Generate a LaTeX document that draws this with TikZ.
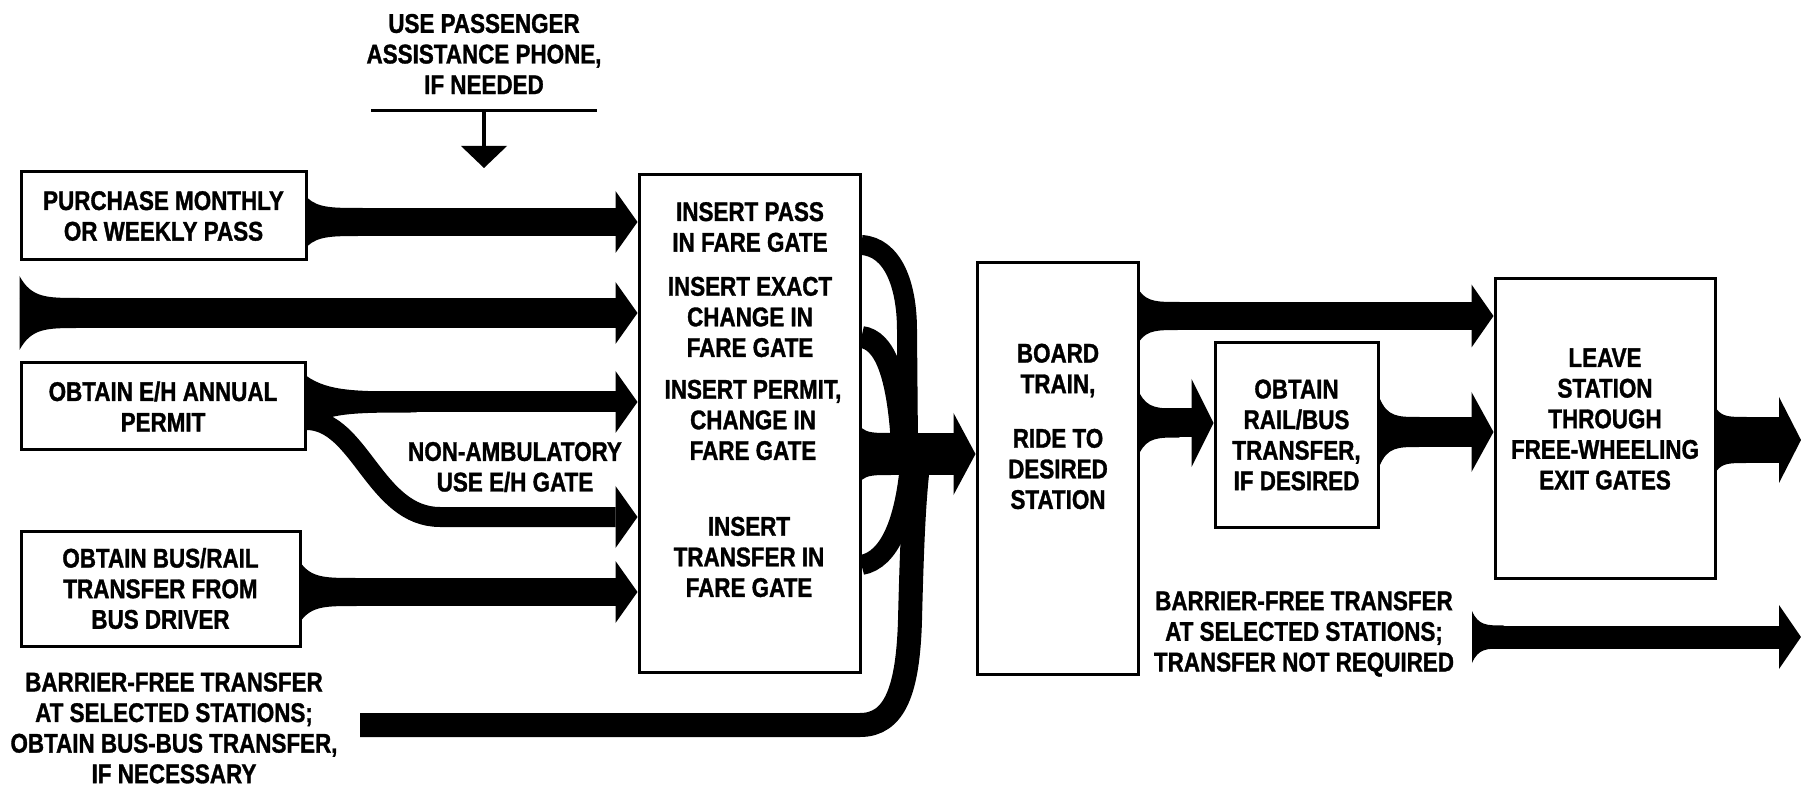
\documentclass[tikz,border=0pt]{standalone}
\usepackage{fontspec}
\setmainfont{Liberation Sans}[FakeStretch=0.83, BoldFeatures={FakeBold=1.2}]
\usetikzlibrary{arrows.meta}

\begin{document}
\begin{tikzpicture}[x=0.5pt, y=-0.5pt,
  box/.style={draw, line width=1.5pt, inner sep=0pt, align=center},
  txt/.style={align=center, inner sep=0pt, font=\bfseries\fontsize{13.5}{15.3}\selectfont},
  flow/.style args={#1/#2}{line width=#1, -{Triangle[length=11pt, width=#2, line width=0pt]}},
  pics/flare/.style args={#1/#2/#3}{code={
    \fill (0,-#1) .. controls ({0.2*#2},-#3) and ({0.45*#2},-#3) .. (#2,-#3)
      -- (#2,#3) .. controls ({0.45*#2},#3) and ({0.2*#2},#3) .. (0,#1) -- cycle;}}]
\useasboundingbox (0,0) rectangle (1801,786);

\node[txt] (assist) at (484,54) {USE PASSENGER\\ASSISTANCE PHONE,\\IF NEEDED};
\coordinate (barl) at (371,111);
\coordinate (barr) at (597,111);
\coordinate (gatein) at (484,168);
\draw[line width=1.5pt] (barl) -- (barr);
\draw[line width=1.8pt, -{Triangle[length=11pt, width=23pt, line width=0pt]}] (barl -| gatein) -- (gatein);

\node[box, txt, minimum width=142.5pt, minimum height=44pt] (purchase) at (163.5,216) {PURCHASE MONTHLY\\OR WEEKLY PASS};
\node[box, txt, minimum width=142pt, minimum height=43.5pt] (permit) at (163,406.5) {OBTAIN E/H ANNUAL\\PERMIT};
\node[box, txt, minimum width=139.5pt, minimum height=57.5pt] (busxfer) at (160.5,588.5) {OBTAIN BUS/RAIL\\TRANSFER FROM\\BUS DRIVER};
\node[box, minimum width=110.5pt, minimum height=248.5pt] (insert) at (749.5,423.5) {};
\node[txt] (inpass) at (750,227) {INSERT PASS\\IN FARE GATE};
\node[txt] (incash) at (750,317) {INSERT EXACT\\CHANGE IN\\FARE GATE};
\node[txt] (inpermit) at (753,420) {INSERT PERMIT,\\CHANGE IN\\FARE GATE};
\node[txt] (intransfer) at (749,557) {INSERT\\TRANSFER IN\\FARE GATE};
\node[box, minimum width=80.5pt, minimum height=205.5pt] (board) at (1057.5,468.5) {};
\node[txt] (boardtxt) at (1058,370.5) {BOARD\\TRAIN,};
\node[txt] (ridetxt) at (1058,469) {RIDE TO\\DESIRED\\STATION};
\node[box, txt, minimum width=81.5pt, minimum height=92pt] (railbus) at (1296.5,435) {OBTAIN\\RAIL/BUS\\TRANSFER,\\IF DESIRED};
\node[box, minimum width=110pt, minimum height=149.5pt] (leave) at (1605,428.5) {};
\node[txt] (leavetxt) at (1605,419) {LEAVE\\STATION\\THROUGH\\FREE-WHEELING\\EXIT GATES};
\node[txt] (nonamb) at (515,467) {NON-AMBULATORY\\USE E/H GATE};
\node[txt] (freebus) at (174,728) {BARRIER-FREE TRANSFER\\AT SELECTED STATIONS;\\OBTAIN BUS-BUS TRANSFER,\\IF NECESSARY};
\node[txt] (freerail) at (1304,634) {BARRIER-FREE TRANSFER\\AT SELECTED STATIONS;\\TRANSFER NOT REQUIRED};

\coordinate (lvpass) at (0,222);
\coordinate (lvcash) at (0,313);
\coordinate (lvpermit) at (0,402);
\coordinate (lvsplit) at (0,420);
\coordinate (lveh) at (0,517);
\coordinate (lvtrans) at (0,592);
\coordinate (lvtop) at (0,245);
\coordinate (lvsecond) at (0,337);
\coordinate (lvmerge) at (0,454);
\coordinate (lvfourth) at (0,565);
\coordinate (lvtrain) at (0,316);
\coordinate (lvrail) at (0,423);
\coordinate (lvleave) at (0,432);
\coordinate (lvexit) at (0,440);
\coordinate (lvfree) at (0,637);
\coordinate (edge) at (1801,0);
\coordinate (barstart) at (360,725);
\coordinate (freestart) at (1472,637);

\draw[flow=14pt/31pt] (purchase.east |- lvpass) -- (insert.west |- lvpass);
\pic at (purchase.east |- lvpass) {flare=24/55/14};
\draw[flow=15pt/31pt] (purchase.west |- lvcash) -- (insert.west |- lvcash);
\pic at (purchase.west |- lvcash) {flare=37/60/15};
\draw[flow=10.5pt/31pt] (permit.east |- lvpermit) -- (insert.west |- lvpermit);
\pic at (permit.east |- lvpermit) {flare=26/110/10.5};
\draw[flow=10pt/31pt] (permit.east |- lvsplit) .. controls (360,420) and (375,517) .. (440,517) -- (insert.west |- lveh);
\draw[flow=14pt/31pt] (busxfer.east |- lvtrans) -- (insert.west |- lvtrans);
\pic at (busxfer.east |- lvtrans) {flare=28/55/14};

\draw[line width=10pt] (insert.east |- lvtop) .. controls (893,247) and (907,285) .. (907,330) -- (908,445);
\draw[line width=11pt] (insert.east |- lvsecond) .. controls (885,340) and (898,375) .. (902,445);
\draw[line width=10pt] (insert.east |- lvfourth) .. controls (890,560) and (905,520) .. (910,465);
\draw[line width=12pt] (barstart) -- (860,725) .. controls (895,725) and (908,690) .. (910,620) .. controls (912,540) and (914,500) .. (918,465);
\draw[flow=21pt/41pt] (insert.east |- lvmerge) -- (board.west |- lvmerge);
\pic at (insert.east |- lvmerge) {flare=26/30/21};

\draw[flow=14pt/31.5pt] (board.east |- lvtrain) -- (leave.west |- lvtrain);
\pic at (board.east |- lvtrain) {flare=25/40/14};
\draw[flow=14.5pt/44pt] (board.east |- lvrail) -- (railbus.west |- lvrail);
\pic at (board.east |- lvrail) {flare=30/40/14.5};
\draw[flow=15pt/40pt] (railbus.east |- lvleave) -- (leave.west |- lvleave);
\pic at (railbus.east |- lvleave) {flare=34/40/15};
\draw[flow=23pt/43pt] (leave.east |- lvexit) -- (edge |- lvexit);
\pic at (leave.east |- lvexit) {flare=31/30/23};
\draw[flow=11.5pt/32pt] (freestart) -- (edge |- lvfree);
\pic at (freestart) {flare=26/32/11.5};
\end{tikzpicture}
\end{document}
